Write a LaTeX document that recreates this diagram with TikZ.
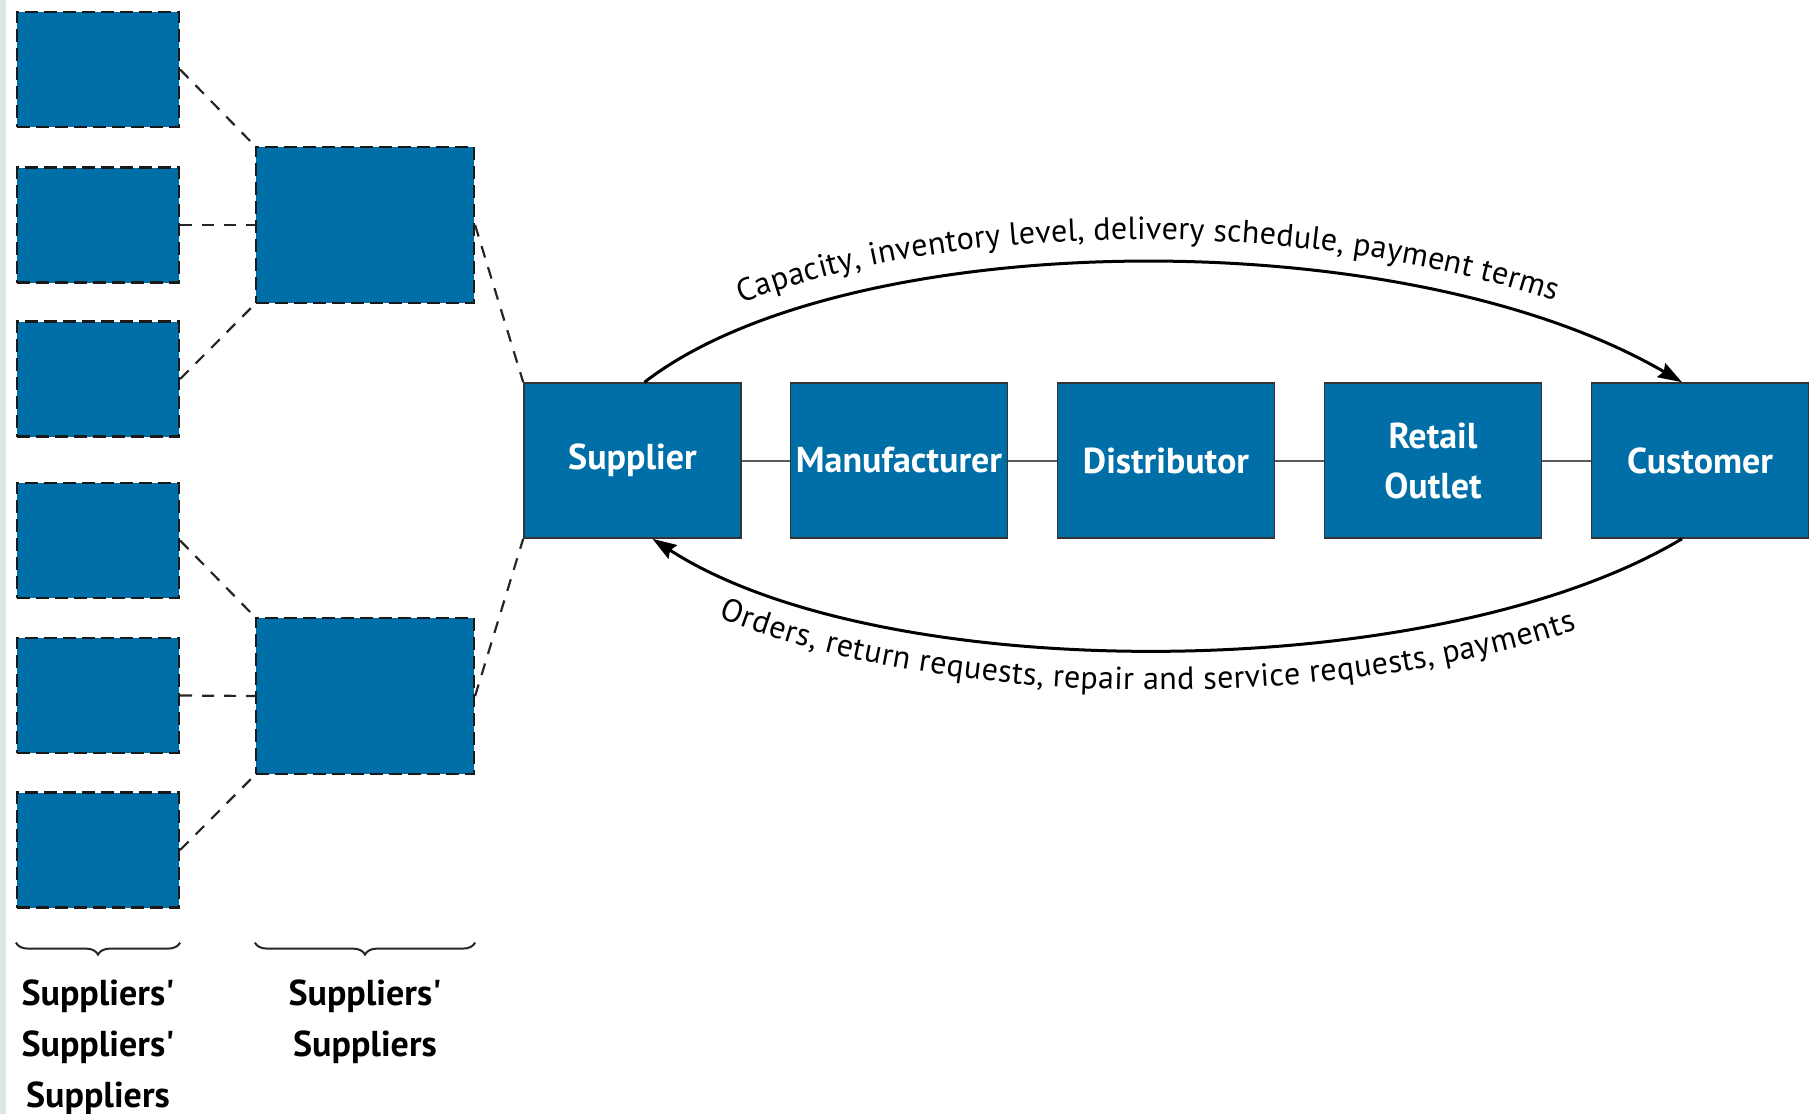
\documentclass[tikz,border=0pt]{standalone}
\usepackage{fontspec}
\setmainfont{PT Sans}
\usetikzlibrary{arrows.meta,decorations.text,decorations.pathreplacing,calc}
\definecolor{boxblue}{RGB}{0,111,168}
\definecolor{stripc}{RGB}{222,230,224}
\newcommand\curvetxt{\fontsize{16}{19}\selectfont}
\newcommand\apos{\textquotesingle}
\begin{document}
\begin{tikzpicture}[x=0.5pt,y=-0.5pt,
  chainbox/.style={draw=black!80, line width=0.8pt, fill=boxblue, text=white,
    font=\bfseries\fontsize{18}{25}\selectfont, minimum width=108.5pt,
    minimum height=77.5pt, inner sep=0pt, align=center},
  dbox/.style={draw=black!90, line width=1.1pt, dash pattern=on 6.5pt off 3pt,
    fill=boxblue, inner sep=0pt},
  smallbox/.style={dbox, minimum width=81pt, minimum height=57.5pt},
  midbox/.style={dbox, minimum width=109pt, minimum height=78pt},
  dconn/.style={draw=black!85, line width=1.1pt, dash pattern=on 6pt off 5pt},
  link/.style={draw=black!65, line width=1pt},
  arc/.style={draw=black, line width=1.5pt, -{Stealth[length=12pt,width=8pt,inset=1.5pt]}},
  brace/.style={draw=black!85, line width=1pt, decorate,
    decoration={brace, mirror, amplitude=6pt}},
  lab/.style={font=\bfseries\fontsize{18}{25.5}\selectfont, align=center, inner sep=0pt}
]
\useasboundingbox (0,0) rectangle (1811,1114);
\fill[stripc] (0,0) rectangle (6,1114);

% left column
\node[smallbox] (L1) at (98,69.5) {};
\node[smallbox] (L2) at (98,225) {};
\node[smallbox] (L3) at (98,379) {};
\node[smallbox] (L4) at (98,540.5) {};
\node[smallbox] (L5) at (98,695.5) {};
\node[smallbox] (L6) at (98,850) {};
% middle column
\node[midbox] (M1) at (365,225) {};
\node[midbox] (M2) at (365,696) {};

% main chain
\node[chainbox] (sup) at (632.5,460.5) {Supplier};
\node[chainbox] (man) at (899,460.5) {Manufacturer};
\node[chainbox] (dis) at (1166,460.5) {Distributor};
\node[chainbox] (ret) at (1433,460.5) {Retail\\Outlet};
\node[chainbox] (cus) at (1700,460.5) {Customer};

% dashed connectors
\draw[dconn] (L1.east) -- (M1.north west);
\draw[dconn] (L2.east) -- (M1.west);
\draw[dconn] (L3.east) -- (M1.south west);
\draw[dconn] (L4.east) -- (M2.north west);
\draw[dconn] (L5.east) -- (M2.west);
\draw[dconn] (L6.east) -- (M2.south west);
\draw[dconn] (M1.east) -- (sup.north west);
\draw[dconn] (M2.east) -- (sup.south west);

% chain links
\draw[link] (sup) -- (man);
\draw[link] (man) -- (dis);
\draw[link] (dis) -- (ret);
\draw[link] (ret) -- (cus);

% arcs
\coordinate (a1) at ($(sup.north)+(12,0)$);
\coordinate (a2) at ($(cus.north)+(-18,0)$);
\coordinate (b1) at ($(cus.south)+(-18,0)$);
\coordinate (b2) at ($(sup.south)+(20,0)$);
\draw[arc] (a1) .. controls (845,227) and (1400,218) .. (a2);
\path[decorate, decoration={text along path, text align={center, right indent=14pt}, raise=11.5pt,
  text={|\curvetxt|Capacity, inventory level, delivery schedule, payment terms}}]
  (a1) .. controls (845,227) and (1400,218) .. (a2);
\draw[arc] (b1) .. controls (1434,687) and (881,687) .. (b2);
\path[decorate, decoration={text along path, text align={center, right indent=20pt}, raise=-20pt,
  text={|\curvetxt|Orders, return requests, repair and service requests, payments}}]
  (b2) .. controls (881,687) and (1434,687) .. (b1);

% braces and labels
\draw[brace] ($(L6.south west)+(0,34)$) -- ($(L6.south east)+(0,34)$);
\draw[brace] ($(M2.west |- L6.south)+(0,34)$) -- ($(M2.east |- L6.south)+(0,34)$);
\node[lab, anchor=north] (labA) at ($(L6.south)+(0,71)$) {Suppliers\apos\\Suppliers\apos\\Suppliers};
\node[lab, anchor=north] (labB) at ($(M2.south |- L6.south)+(0,71)$) {Suppliers\apos\\Suppliers};
\end{tikzpicture}
\end{document}
